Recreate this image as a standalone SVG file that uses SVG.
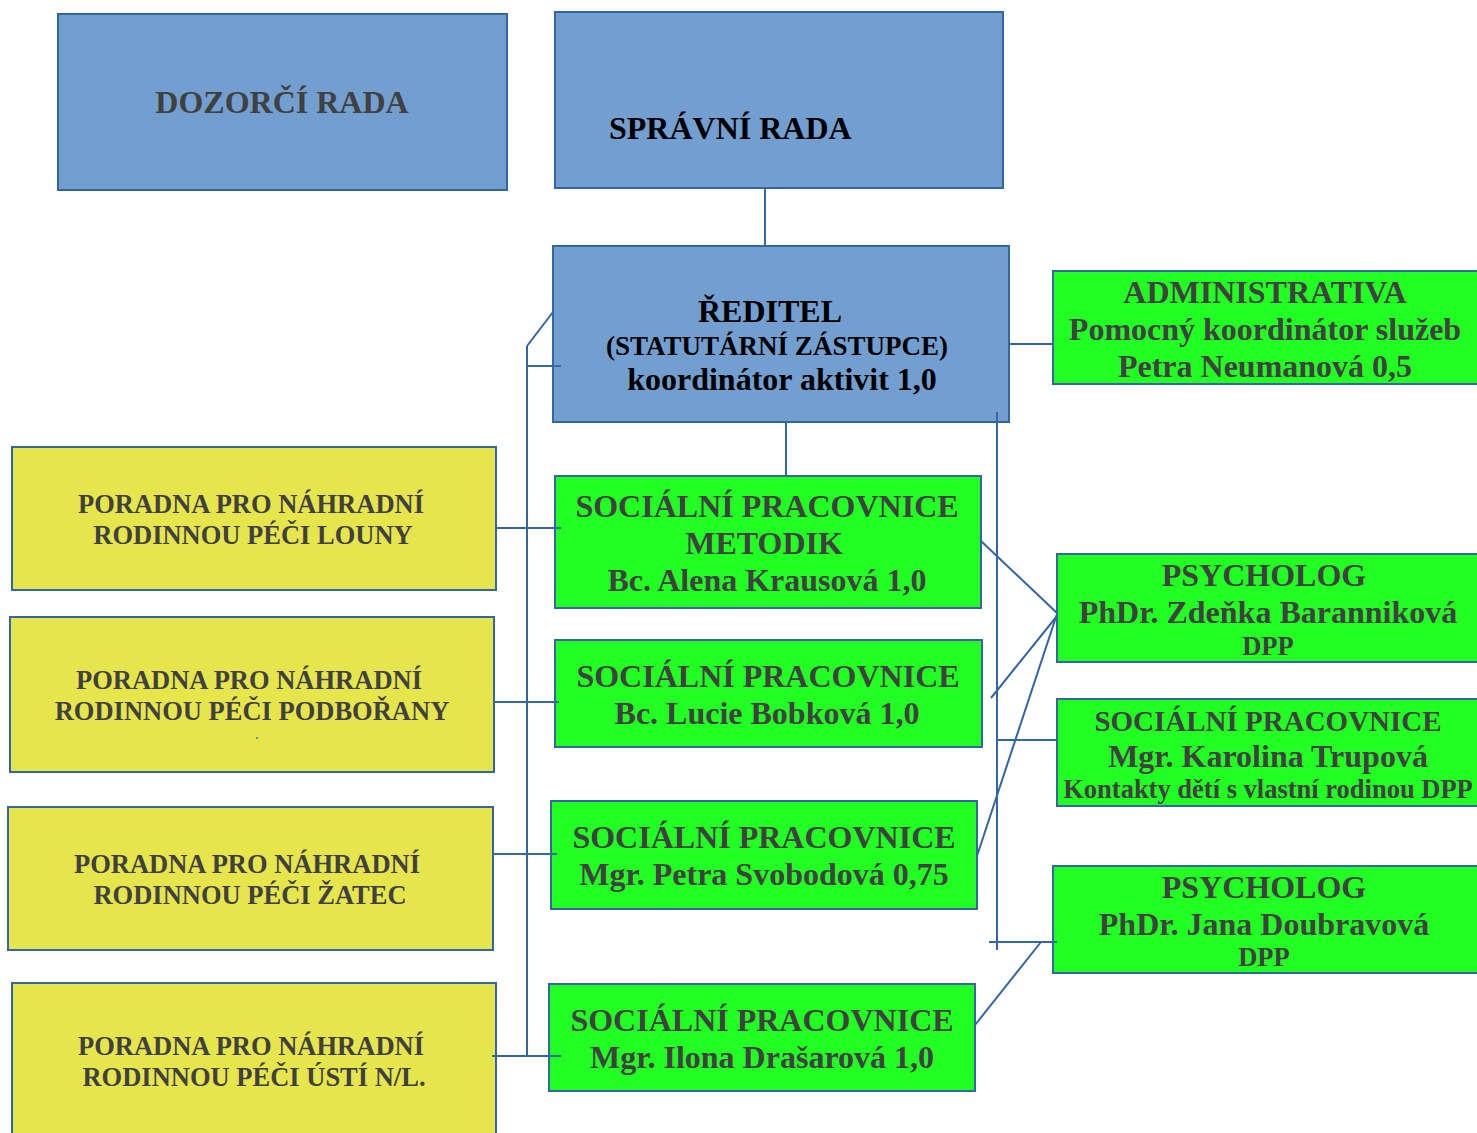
<svg xmlns="http://www.w3.org/2000/svg" width="1477" height="1133" viewBox="0 0 1477 1133">
<style>
.b{fill:#729fcf;stroke:#3465a4;stroke-width:2}
.g{fill:#22ff22;stroke:#3465a4;stroke-width:2}
.y{fill:#e6e64c;stroke:#3465a4;stroke-width:2}
text{font-family:"Liberation Serif","Times New Roman",serif;font-weight:bold;text-anchor:middle;fill:#404040}
.k{fill:#000}
.t30{font-size:32px}
.t29{font-size:29px}
.t26{font-size:27px}
.t25{font-size:26.5px}
.t23{font-size:26.5px}
.c line{stroke:#3465a4;stroke-width:2}
</style>
<rect width="1477" height="1133" fill="#fff"/>
<g id="dozorci"><rect class="b" x="58" y="14" width="449" height="176"/><text class="t30" x="282" y="113">DOZORČÍ RADA</text></g>
<g id="spravni"><rect class="b" x="555" y="12" width="448" height="176"/><text class="t30 k" x="609" y="139" style="text-anchor:start">SPRÁVNÍ RADA</text></g>
<g id="reditel"><rect class="b" x="553" y="246" width="456" height="176"/>
<text class="t30 k" x="770" y="322">ŘEDITEL</text>
<text class="t26 k" x="777" y="355">(STATUTÁRNÍ ZÁSTUPCE)</text>
<text class="t30 k" x="782" y="390">koordinátor aktivit 1,0</text></g>
<g id="admin"><rect class="g" x="1053" y="271" width="426" height="113"/>
<text class="t30" x="1265" y="303">ADMINISTRATIVA</text>
<text class="t30" x="1265" y="340">Pomocný koordinátor služeb</text>
<text class="t30" x="1265" y="377">Petra Neumanová 0,5</text></g>
<g id="metodik"><rect class="g" x="555" y="476" width="426" height="132"/>
<text class="t30" x="767" y="517">SOCIÁLNÍ PRACOVNICE</text>
<text class="t30" x="764" y="554">METODIK</text>
<text class="t30" x="767" y="591">Bc. Alena Krausová 1,0</text></g>
<g id="bobkova"><rect class="g" x="555" y="640" width="427" height="107"/>
<text class="t30" x="768" y="687">SOCIÁLNÍ PRACOVNICE</text>
<text class="t30" x="767" y="724">Bc. Lucie Bobková 1,0</text></g>
<g id="svobodova"><rect class="g" x="551" y="801" width="426" height="108"/>
<text class="t30" x="764" y="848">SOCIÁLNÍ PRACOVNICE</text>
<text class="t30" x="764" y="885">Mgr. Petra Svobodová 0,75</text></g>
<g id="drasarova"><rect class="g" x="549" y="984" width="426" height="107"/>
<text class="t30" x="762" y="1031">SOCIÁLNÍ PRACOVNICE</text>
<text class="t30" x="762" y="1068">Mgr. Ilona Drašarová 1,0</text></g>
<g id="louny"><rect class="y" x="12" y="447" width="484" height="143"/>
<text class="t25" x="251" y="513">PORADNA PRO NÁHRADNÍ</text>
<text class="t25" x="253" y="544">RODINNOU PÉČI LOUNY</text></g>
<g id="podborany"><rect class="y" x="10" y="617" width="484" height="155"/>
<text class="t25" x="249" y="689">PORADNA PRO NÁHRADNÍ</text>
<text class="t25" x="252" y="720">RODINNOU PÉČI PODBOŘANY</text>
<rect x="256" y="737" width="2" height="2" fill="#5b9bd5"/></g>
<g id="zatec"><rect class="y" x="8" y="807" width="485" height="143"/>
<text class="t25" x="247" y="873">PORADNA PRO NÁHRADNÍ</text>
<text class="t25" x="250" y="904">RODINNOU PÉČI ŽATEC</text></g>
<g id="usti"><rect class="y" x="12" y="983" width="484" height="160"/>
<text class="t25" x="251" y="1055">PORADNA PRO NÁHRADNÍ</text>
<text class="t25" x="254" y="1086">RODINNOU PÉČI ÚSTÍ N/L.</text></g>
<g id="psych1"><rect class="g" x="1057" y="554" width="422" height="108"/>
<text class="t30" x="1264" y="586">PSYCHOLOG</text>
<text class="t30" x="1268" y="623">PhDr. Zdeňka Baranniková</text>
<text class="t23" x="1268" y="655">DPP</text></g>
<g id="trupova"><rect class="g" x="1057" y="699" width="422" height="107"/>
<text class="t29" x="1268" y="731">SOCIÁLNÍ PRACOVNICE</text>
<text class="t30" x="1268" y="767">Mgr. Karolina Trupová</text>
<text class="t23" x="1268" y="798">Kontakty dětí s vlastní rodinou DPP</text></g>
<g id="psych2"><rect class="g" x="1053" y="866" width="426" height="107"/>
<text class="t30" x="1264" y="898">PSYCHOLOG</text>
<text class="t30" x="1264" y="935">PhDr. Jana Doubravová</text>
<text class="t23" x="1264" y="966">DPP</text></g>
<g id="connectors" class="c">
<line x1="765" y1="188" x2="765" y2="246"/>
<line x1="1009" y1="344" x2="1053" y2="344"/>
<line x1="786" y1="422" x2="786" y2="476"/>
<line x1="527" y1="346" x2="527" y2="1057"/>
<line x1="527" y1="346" x2="553" y2="312"/>
<line x1="527" y1="366" x2="561" y2="366"/>
<line x1="496" y1="528" x2="561" y2="528"/>
<line x1="494" y1="702" x2="559" y2="702"/>
<line x1="493" y1="854" x2="557" y2="854"/>
<line x1="492" y1="1056" x2="561" y2="1056"/>
<line x1="997" y1="412" x2="997" y2="950"/>
<line x1="981" y1="541" x2="1057" y2="613"/>
<line x1="991" y1="698" x2="1057" y2="616"/>
<line x1="977" y1="856" x2="1057" y2="614"/>
<line x1="997" y1="740" x2="1057" y2="740"/>
<line x1="989" y1="942" x2="1057" y2="942"/>
<line x1="1041" y1="942" x2="975" y2="1025"/>
</g>
</svg>
